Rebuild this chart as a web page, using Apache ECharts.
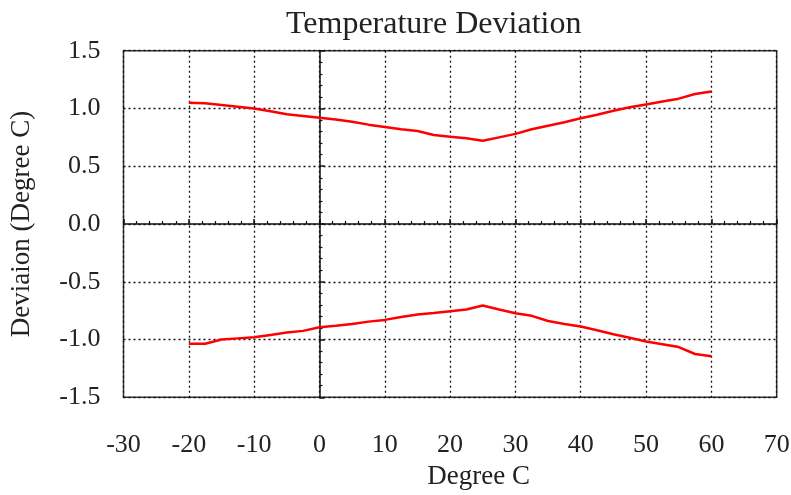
<!DOCTYPE html>
<html>
<head>
<meta charset="utf-8">
<title>Temperature Deviation</title>
<script src="https://cdn.jsdelivr.net/npm/echarts/dist/echarts.min.js"></script>
<style>
  html, body { margin: 0; padding: 0; background: #fff; }
  #chart { width: 791px; height: 495px; }
</style>
</head>
<body>
<div id="chart"></div>
<script>
// 温度 (Degree C)
var temps = [-20, -17.5, -15, -12.5, -10, -7.5, -5, -2.5, 0, 2.5, 5, 7.5, 10, 12.5, 15, 17.5,
  20, 22.5, 25, 27.5, 30, 32.5, 35, 37.5, 40, 42.5, 45, 47.5, 50, 52.5, 55, 57.5, 60]
// 上限偏差
var upperDev = [1.05, 1.045, 1.03, 1.015, 1.0, 0.975, 0.95, 0.935, 0.92, 0.905, 0.885, 0.86,
  0.84, 0.82, 0.805, 0.77, 0.755, 0.743, 0.72, 0.75, 0.78, 0.82, 0.85, 0.88, 0.915, 0.945,
  0.98, 1.01, 1.035, 1.06, 1.085, 1.125, 1.146]
// 下限偏差
var lowerDev = [-1.037, -1.037, -1.0, -0.99, -0.98, -0.96, -0.94, -0.925, -0.893, -0.88, -0.865,
  -0.845, -0.83, -0.805, -0.784, -0.77, -0.755, -0.74, -0.706, -0.74, -0.772, -0.795, -0.84,
  -0.865, -0.888, -0.92, -0.955, -0.985, -1.017, -1.04, -1.065, -1.125, -1.144]
// 刻度
var xTicks = [-30, -20, -10, 0, 10, 20, 30, 40, 50, 60, 70]
var yTickLabels = ['-1.5', '-1.0', '-0.5', '0.0', '0.5', '1.0', '1.5']

var fontFamily = '"Liberation Serif", "Times New Roman", serif'
var textColor = '#222'

function pairs(xs, ys) {
  return xs.map(function (x, i) { return [x, ys[i]] })
}

var myChart = echarts.init(document.getElementById('chart'))

// 主坐标轴 (带标签, 在边框处)
var xMain = {
  type: 'value',
  min: xTicks[0],
  max: xTicks[xTicks.length - 1],
  interval: 10,
  position: 'bottom',
  name: 'Degree C',
  nameLocation: 'middle',
  nameGap: 66,
  nameTextStyle: { fontFamily: fontFamily, fontSize: 27, color: textColor, padding: [0, 0, 0, 57] },
  axisLine: { show: false, onZero: false },
  axisTick: { show: false },
  axisLabel: { fontFamily: fontFamily, fontSize: 26, color: textColor, margin: 35 },
  splitLine: { show: true, lineStyle: { color: '#111', type: [2, 3], width: 1.3 } }
}
var yMain = {
  type: 'value',
  min: -1.5,
  max: 1.5,
  interval: 0.5,
  position: 'left',
  name: 'Deviaion (Degree C)',
  nameLocation: 'middle',
  nameGap: 88,
  nameTextStyle: { fontFamily: fontFamily, fontSize: 27, color: textColor },
  axisLine: { show: false, onZero: false },
  axisTick: { show: false },
  axisLabel: {
    fontFamily: fontFamily, fontSize: 26, color: textColor, margin: 23,
    formatter: function (v) { return yTickLabels[Math.round((v + 1.5) / 0.5)] }
  },
  splitLine: { show: true, lineStyle: { color: '#111', type: [2, 3], width: 1.3 } }
}

// 零线坐标轴 (只画实线和小刻度)
var xZero = {
  type: 'value',
  min: xTicks[0],
  max: xTicks[xTicks.length - 1],
  interval: 10,
  position: 'top',
  axisLine: { show: true, onZero: true, lineStyle: { color: '#111', width: 1.5 } },
  axisTick: { show: true, length: 5, lineStyle: { color: '#111', width: 1.5 } },
  minorTick: { show: true, splitNumber: 5, length: 3, lineStyle: { color: '#111', width: 1.2 } },
  axisLabel: { show: false },
  splitLine: { show: false }
}
var yZero = {
  type: 'value',
  min: -1.5,
  max: 1.5,
  interval: 0.5,
  position: 'right',
  axisLine: { show: true, onZero: true, lineStyle: { color: '#111', width: 1.5 } },
  axisTick: { show: true, length: 5, lineStyle: { color: '#111', width: 1.5 } },
  minorTick: { show: true, splitNumber: 5, length: 3, lineStyle: { color: '#111', width: 1.2 } },
  axisLabel: { show: false },
  splitLine: { show: false }
}

var option = {
  backgroundColor: '#fff',
  animation: false,
  title: {
    text: 'Temperature Deviation',
    left: 286,
    top: 9,
    padding: 0,
    textStyle: { fontFamily: fontFamily, fontSize: 32, fontWeight: 'normal', color: textColor }
  },
  grid: {
    left: 123.5,
    top: 50.7,
    right: 14.3,
    bottom: 97.7,
    show: true,
    backgroundColor: '#fff',
    borderColor: '#333',
    borderWidth: 1.5,
    outerBoundsMode: 'none'
  },
  xAxis: [xMain, xZero],
  yAxis: [yMain, yZero],
  series: [
    {
      name: 'upper',
      type: 'line',
      data: pairs(temps, upperDev),
      showSymbol: false,
      lineStyle: { color: '#ff0000', width: 2.5 },
      z: 5
    },
    {
      name: 'lower',
      type: 'line',
      data: pairs(temps, lowerDev),
      showSymbol: false,
      lineStyle: { color: '#ff0000', width: 2.5 },
      z: 5
    }
  ]
}

myChart.setOption(option)
</script>
</body>
</html>
